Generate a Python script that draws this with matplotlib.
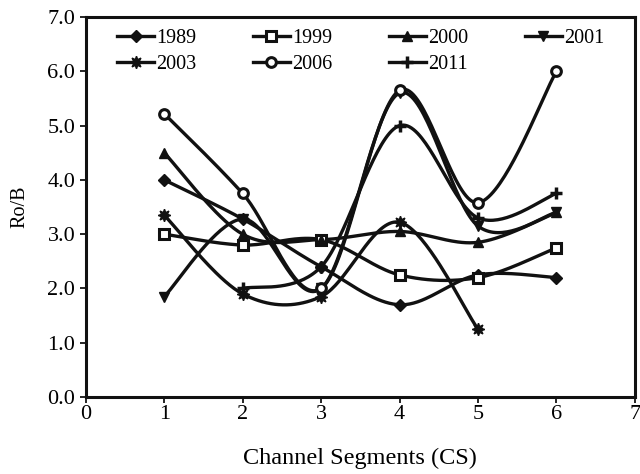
import numpy as np
import matplotlib
matplotlib.use("Agg")
import matplotlib.pyplot as plt

plt.rcParams['font.family'] = ['Liberation Serif', 'DejaVu Serif']

segments = [1, 2, 3, 4, 5, 6]
nan = np.nan
ro_1989 = [4.00, 3.28, 2.40, 1.70, 2.25, 2.20]
ro_1999 = [3.00, 2.80, 2.90, 2.25, 2.20, 2.75]
ro_2000 = [4.50, 3.00, 2.90, 3.05, 2.85, 3.40]
ro_2001 = [1.85, 3.28, 2.00, 5.60, 3.15, 3.40]
ro_2003 = [3.35, 1.90, 1.85, 3.22, 1.25, nan]
ro_2006 = [5.22, 3.75, 2.00, 5.65, 3.58, 6.00]
ro_2011 = [nan, 2.00, 2.40, 5.00, 3.30, 3.75]

series = [
    ("1989", ro_1989, dict(marker="D", ms=6, mfc="#111111")),
    ("1999", ro_1999, dict(marker="s", ms=7, mfc="white", mew=2.2)),
    ("2000", ro_2000, dict(marker="^", ms=7, mfc="#111111")),
    ("2001", ro_2001, dict(marker="v", ms=7, mfc="#111111")),
    ("2003", ro_2003, dict(marker=(8, 1, 0), ms=9, mfc="#111111")),
    ("2006", ro_2006, dict(marker="o", ms=7, mfc="white", mew=2.2)),
    ("2011", ro_2011, dict(marker="+", ms=9, mew=2.5)),
]


def smooth(xs, ys, n=40):
    """Smoothed curve through the points (cubic Bezier, Catmull-Rom tangents)."""
    xs = np.asarray(xs, float)
    ys = np.asarray(ys, float)
    ok = ~np.isnan(ys)
    xs, ys = xs[ok], ys[ok]
    pts = np.column_stack([xs, ys])
    out = []
    m = len(pts)
    for i in range(m - 1):
        p0 = pts[i - 1] if i > 0 else pts[i]
        p1 = pts[i]
        p2 = pts[i + 1]
        p3 = pts[i + 2] if i + 2 < m else pts[i + 1]
        c1 = p1 + (p2 - p0) / 6.0
        c2 = p2 - (p3 - p1) / 6.0
        t = np.linspace(0, 1, n)[:, None]
        seg = ((1 - t) ** 3) * p1 + 3 * ((1 - t) ** 2) * t * c1 \
            + 3 * (1 - t) * t ** 2 * c2 + t ** 3 * p2
        out.append(seg if i == 0 else seg[1:])
    c = np.vstack(out)
    return c[:, 0], c[:, 1]


fig = plt.figure(figsize=(6.4, 4.74), dpi=100)
ax = fig.add_axes([0.134, 0.1624, 0.858, 0.8016])

color = "#111111"
handles = {}
for label, vals, mk in series:
    cx, cy = smooth(segments, vals)
    ax.plot(cx, cy, color=color, lw=2.4, solid_capstyle="round", zorder=2)
    ax.plot(segments, vals, linestyle="none", color=color, mec=color,
            zorder=3, **mk)
    handles[label], = ax.plot([], [], color=color, lw=2.4, label=label,
                              mec=color, **mk)

ax.set_xlim(0, 7)
ax.set_ylim(0, 7)
ax.set_xticks(range(0, 8))
ax.set_yticks(np.arange(0, 7.01, 1.0))
ax.set_yticklabels([f"{v:.1f}" for v in np.arange(0, 7.01, 1.0)])
ax.tick_params(labelsize=16, width=1.2, length=4, direction="out")
ax.tick_params(axis="x", pad=2)
for s in ax.spines.values():
    s.set_linewidth(2.2)
    s.set_color(color)

ax.set_xlabel("Channel Segments (CS)", fontsize=17.5, labelpad=17)
ax.set_ylabel("Ro/B", fontsize=14.5, labelpad=13)

# legend filled row by row: 4 columns
order = ["1989", "2003", "1999", "2006", "2000", "2011", "2001"]
ax.legend([handles[k] for k in order], order, loc="upper left",
          bbox_to_anchor=(0.035, 1.0), ncol=4, frameon=False,
          fontsize=14.5, handlelength=1.85, handletextpad=0.1,
          columnspacing=2.8, labelspacing=0.35, borderaxespad=0.2)

fig.savefig("out.png", dpi=100)
